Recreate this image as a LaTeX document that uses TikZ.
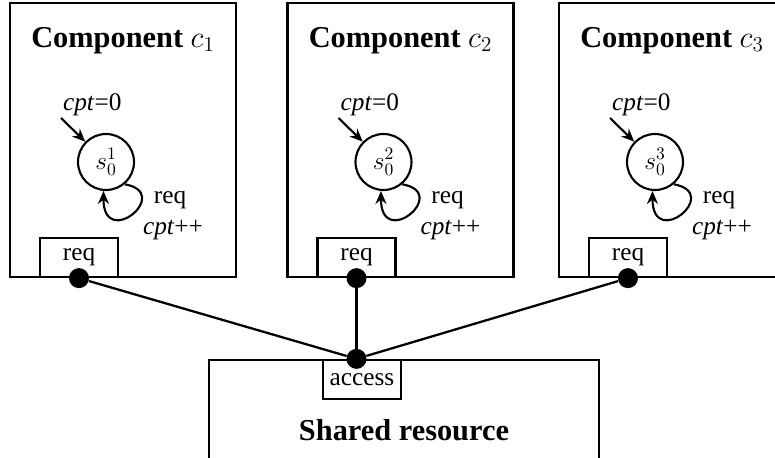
\documentclass[tikz,border=0pt]{standalone}
\usepackage{fontspec}
\setmainfont{Liberation Serif}
\usetikzlibrary{arrows.meta, calc, positioning}

\tikzset{
    comp/.style={draw, line width=1.3pt, minimum width=4.52cm, minimum height=5.48cm},
    state/.style={draw, circle, line width=1.2pt, minimum size=1.12cm, inner sep=0pt, font=\Large},
    port/.style={draw, line width=1.3pt, minimum width=1.56cm, minimum height=0.78cm, inner sep=0pt, font=\Large},
    dot/.style={circle, fill=black, minimum size=0.4cm, inner sep=0pt},
    title/.style={font=\LARGE\bfseries, inner sep=0pt},
    lbl/.style={font=\Large, inner sep=1pt},
    wire/.style={line width=1.3pt},
    trans/.style={-{Stealth[length=2.6mm,width=2.2mm]}, line width=1.2pt}
}

\begin{document}
\begin{tikzpicture}
    \useasboundingbox (0,0) rectangle (15.5,9.14);
    \clip (0,0) rectangle (15.5,9.14);
    % Definitions
    \coordinate (Comp1)  at (2.46,6.34);
    \coordinate (Comp2)  at (8.01,6.34);
    \coordinate (Comp3)  at (13.44,6.34);
    \coordinate (Shared) at (8.08,0.69);
    % Components
    \node(C1) at (Comp1) [comp] {};
    \node(C2) at (Comp2) [comp] {};
    \node(C3) at (Comp3) [comp] {};
    \node(T1) [title, below=0.5cm of C1.north] {Component $c_1$};
    \node(T2) [title, below=0.5cm of C2.north] {Component $c_2$};
    \node(T3) [title, below=0.5cm of C3.north] {Component $c_3$};
    % Shared resource
    \node(S) at (Shared) [comp, minimum width=7.8cm, minimum height=2.5cm] {};
    \node(ST) [title, below=1.2cm of S.north] {Shared resource};
    % States
    \node(s1) at ($(C1)+(-0.34,-0.44)$) [state] {$s_0^1$};
    \node(s2) at ($(C2)+(-0.34,-0.44)$) [state] {$s_0^2$};
    \node(s3) at ($(C3)+(-0.34,-0.44)$) [state] {$s_0^3$};
    \coordinate (i1) at ($(s1)+(-0.9,0.88)$);
    \coordinate (i2) at ($(s2)+(-0.9,0.88)$);
    \coordinate (i3) at ($(s3)+(-0.9,0.88)$);
    \node[lbl, anchor=south west] at (i1) {\textit{cpt}=0};
    \node[lbl, anchor=south west] at (i2) {\textit{cpt}=0};
    \node[lbl, anchor=south west] at (i3) {\textit{cpt}=0};
    % Transitions
    \draw[trans] (i1) -- (s1);
    \draw[trans] (i2) -- (s2);
    \draw[trans] (i3) -- (s3);
    \draw[trans] (s1.-50) .. controls +(-10:1.0) and +(-90:1.2) .. (s1.-95);
    \draw[trans] (s2.-50) .. controls +(-10:1.0) and +(-90:1.2) .. (s2.-95);
    \draw[trans] (s3.-50) .. controls +(-10:1.0) and +(-90:1.2) .. (s3.-95);
    \node[lbl] at ($(s1)+(1.28,-0.76)$) {req};
    \node[lbl] at ($(s2)+(1.28,-0.76)$) {req};
    \node[lbl] at ($(s3)+(1.28,-0.76)$) {req};
    \node[lbl] at ($(s1)+(1.34,-1.36)$) {\textit{cpt}++};
    \node[lbl] at ($(s2)+(1.34,-1.36)$) {\textit{cpt}++};
    \node[lbl] at ($(s3)+(1.34,-1.36)$) {\textit{cpt}++};
    % Ports
    \node(P1) [port, anchor=south] at ($(C1.south)+(-0.88,0)$) {req};
    \node(P2) [port, anchor=south] at ($(C2.south)+(-0.88,0)$) {req};
    \node(P3) [port, anchor=south] at ($(C3.south)+(-0.88,0)$) {req};
    \node(PA) [port, anchor=north] at ($(S.north)+(-0.84,0)$) {access};
    \node(D1) at (P1.south) [dot] {};
    \node(D2) at (P2.south) [dot] {};
    \node(D3) at (P3.south) [dot] {};
    \node(DA) at (D2 |- PA.north) [dot] {};
    % Connector
    \draw[wire] (D1) -- (DA);
    \draw[wire] (D2) -- (DA);
    \draw[wire] (D3) -- (DA);
\end{tikzpicture}
\end{document}
